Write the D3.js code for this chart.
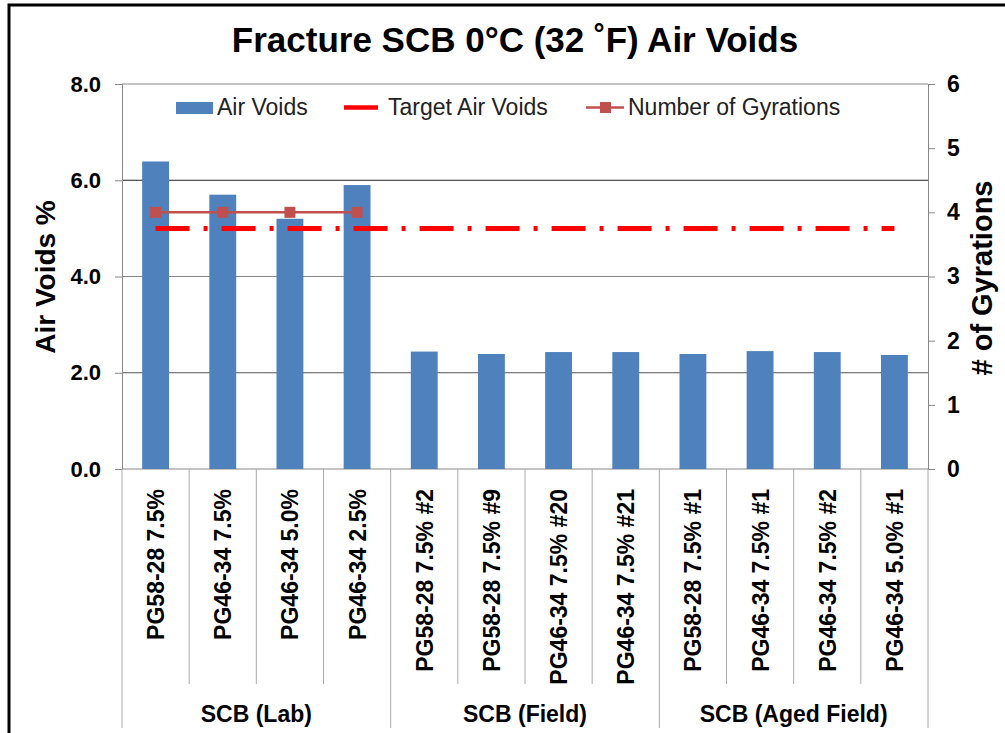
<!DOCTYPE html>
<html>
<head>
<meta charset="utf-8">
<script src="https://cdn.jsdelivr.net/npm/d3@7"></script>
<style>
  body { margin: 0; background: #fff; }
  text { font-family: "Liberation Sans", Arial, sans-serif; }
</style>
</head>
<body>
<div id="chart"></div>
<script>
// chart values
const categories = ["PG58-28 7.5%", "PG46-34 7.5%", "PG46-34 5.0%", "PG46-34 2.5%",
  "PG58-28 7.5% #2", "PG58-28 7.5% #9", "PG46-34 7.5% #20", "PG46-34 7.5% #21",
  "PG58-28 7.5% #1", "PG46-34 7.5% #1", "PG46-34 7.5% #2", "PG46-34 5.0% #1"];
const groups = ["SCB (Lab)", "SCB (Field)", "SCB (Aged Field)"];
const groupOf = [0, 0, 0, 0, 1, 1, 1, 1, 2, 2, 2, 2];
const airVoids = [6.39, 5.70, 5.20, 5.90, 2.44, 2.39, 2.43, 2.43, 2.39, 2.45, 2.43, 2.37];
const gyrations = [4, 4, 4, 4, null, null, null, null, null, null, null, null];
const targetAirVoids = 5.0;
const leftTicks = [0, 2, 4, 6, 8];
const rightTicks = [0, 1, 2, 3, 4, 5, 6];
const legendItems = ["Air Voids", "Target Air Voids", "Number of Gyrations"];

const width = 1005, height = 733;
const plot = { left: 122, right: 928, top: 84, bottom: 469 };

const svg = d3.select("#chart")
  .append("svg")
  .attr("width", width)
  .attr("height", height);

// outer frame (only top and left edges are inside the picture)
svg.append("path")
  .attr("d", `M9,${height} V5 H${width}`)
  .attr("fill", "none")
  .attr("stroke", "#000")
  .attr("stroke-width", 3);

const x = d3.scaleBand()
  .domain(categories)
  .range([plot.left, plot.right])
  .paddingInner(0.6)
  .paddingOuter(0.3);

const xSep = d3.scaleBand()
  .domain(categories)
  .range([plot.left, plot.right]);

const y = d3.scaleLinear().domain([0, 8]).range([plot.bottom, plot.top]);
const y2 = d3.scaleLinear().domain([0, 6]).range([plot.bottom, plot.top]);

// gridlines
const gridColor = { 2: "#555", 4: "#888", 6: "#222", 8: "#888" };
svg.append("g")
  .selectAll("line")
  .data(leftTicks.filter(d => d > 0))
  .join("line")
  .attr("x1", plot.left)
  .attr("x2", plot.right)
  .attr("y1", d => y(d))
  .attr("y2", d => y(d))
  .attr("stroke", d => gridColor[d])
  .attr("stroke-width", 1);

// left axis
const leftAxis = svg.append("g")
  .attr("transform", `translate(${plot.left},0)`)
  .call(d3.axisLeft(y).tickValues(leftTicks).tickFormat(d3.format(".1f")).tickSize(7).tickPadding(14));
leftAxis.select(".domain").attr("stroke", "#888");
leftAxis.selectAll(".tick line").attr("stroke", "#888");
leftAxis.selectAll(".tick text")
  .attr("font-size", 22)
  .attr("font-weight", "bold")
  .attr("fill", "#000")
  .attr("font-family", "Liberation Sans, Arial, sans-serif");

// right axis
const rightAxis = svg.append("g")
  .attr("transform", `translate(${plot.right},0)`)
  .call(d3.axisRight(y2).tickValues(rightTicks).tickFormat(d3.format("d")).tickSize(7).tickPadding(12));
rightAxis.select(".domain").attr("stroke", "#888");
rightAxis.selectAll(".tick line").attr("stroke", "#888");
rightAxis.selectAll(".tick text")
  .attr("font-size", 23)
  .attr("font-weight", "bold")
  .attr("fill", "#000")
  .attr("font-family", "Liberation Sans, Arial, sans-serif");

// bottom axis line
svg.append("line")
  .attr("x1", plot.left).attr("x2", plot.right)
  .attr("y1", plot.bottom).attr("y2", plot.bottom)
  .attr("stroke", "#888");

// category separators
const inner = categories.filter((c, i) => i > 0 && groupOf[i] === groupOf[i - 1]);
svg.append("g")
  .selectAll("line")
  .data(inner)
  .join("line")
  .attr("x1", d => xSep(d)).attr("x2", d => xSep(d))
  .attr("y1", plot.bottom).attr("y2", 684)
  .attr("stroke", "#aaa");

const groupEdges = groups.map((g, gi) => xSep(categories[groupOf.indexOf(gi)]));
groupEdges.push(plot.right);
svg.append("g")
  .selectAll("line")
  .data(groupEdges)
  .join("line")
  .attr("x1", d => d).attr("x2", d => d)
  .attr("y1", plot.bottom).attr("y2", 728)
  .attr("stroke", "#aaa");

// bars
svg.append("g")
  .selectAll("rect")
  .data(categories)
  .join("rect")
  .attr("x", d => x(d))
  .attr("width", x.bandwidth())
  .attr("y", (d, i) => y(airVoids[i]))
  .attr("height", (d, i) => y(0) - y(airVoids[i]))
  .attr("fill", "#4F81BD");

// target air voids line
const cx = d => xSep(d) + xSep.bandwidth() / 2;
svg.append("line")
  .attr("x1", cx(categories[0]))
  .attr("x2", cx(categories[categories.length - 1]))
  .attr("y1", y(targetAirVoids))
  .attr("y2", y(targetAirVoids))
  .attr("stroke", "#FF0000")
  .attr("stroke-width", 5)
  .attr("stroke-dasharray", "34,14,4,14");

// number of gyrations
const gyr = categories.map((c, i) => ({ c, v: gyrations[i] })).filter(d => d.v != null);
svg.append("path")
  .datum(gyr)
  .attr("fill", "none")
  .attr("stroke", "#C0504D")
  .attr("stroke-width", 2.5)
  .attr("d", d3.line().x(d => cx(d.c)).y(d => y2(d.v)));
svg.append("g")
  .selectAll("rect")
  .data(gyr)
  .join("rect")
  .attr("x", d => cx(d.c) - 5.5)
  .attr("y", d => y2(d.v) - 5.5)
  .attr("width", 11)
  .attr("height", 11)
  .attr("fill", "#C0504D");

// category labels
svg.append("g")
  .selectAll("text")
  .data(categories)
  .join("text")
  .attr("transform", d => `translate(${cx(d) + 8.5},489) rotate(-90)`)
  .attr("text-anchor", "end")
  .attr("font-size", 23)
  .attr("font-weight", "bold")
  .text(d => d);

// group labels
svg.append("g")
  .selectAll("text")
  .data(groups)
  .join("text")
  .attr("x", (d, i) => (groupEdges[i] + groupEdges[i + 1]) / 2)
  .attr("y", 722)
  .attr("text-anchor", "middle")
  .attr("font-size", 23)
  .attr("font-weight", "bold")
  .text(d => d);

// title
svg.append("text")
  .attr("x", 515)
  .attr("y", 52)
  .attr("text-anchor", "middle")
  .attr("font-size", 35)
  .attr("font-weight", "bold")
  .text("Fracture SCB 0°C (32 ˚F) Air Voids");

// axis titles
svg.append("text")
  .attr("transform", "translate(55,277) rotate(-90)")
  .attr("text-anchor", "middle")
  .attr("font-size", 28)
  .attr("font-weight", "bold")
  .text("Air Voids %");

svg.append("text")
  .attr("transform", "translate(992,278) rotate(-90)")
  .attr("text-anchor", "middle")
  .attr("font-size", 29)
  .attr("font-weight", "bold")
  .text("# of Gyrations");

// legend
const legend = svg.append("g");
legend.append("rect")
  .attr("x", 176).attr("y", 102).attr("width", 37).attr("height", 12)
  .attr("fill", "#4F81BD");
legend.append("line")
  .attr("x1", 344).attr("x2", 378).attr("y1", 107.5).attr("y2", 107.5)
  .attr("stroke", "#FF0000").attr("stroke-width", 4.5);
legend.append("line")
  .attr("x1", 586).attr("x2", 624).attr("y1", 107.5).attr("y2", 107.5)
  .attr("stroke", "#C0504D").attr("stroke-width", 2.5);
legend.append("rect")
  .attr("x", 600).attr("y", 102).attr("width", 11).attr("height", 11)
  .attr("fill", "#C0504D");
legend.selectAll("text")
  .data(legendItems)
  .join("text")
  .attr("x", (d, i) => [217, 388, 628][i])
  .attr("y", 115)
  .attr("font-size", 23)
  .attr("fill", "#222")
  .text(d => d);
</script>
</body>
</html>
